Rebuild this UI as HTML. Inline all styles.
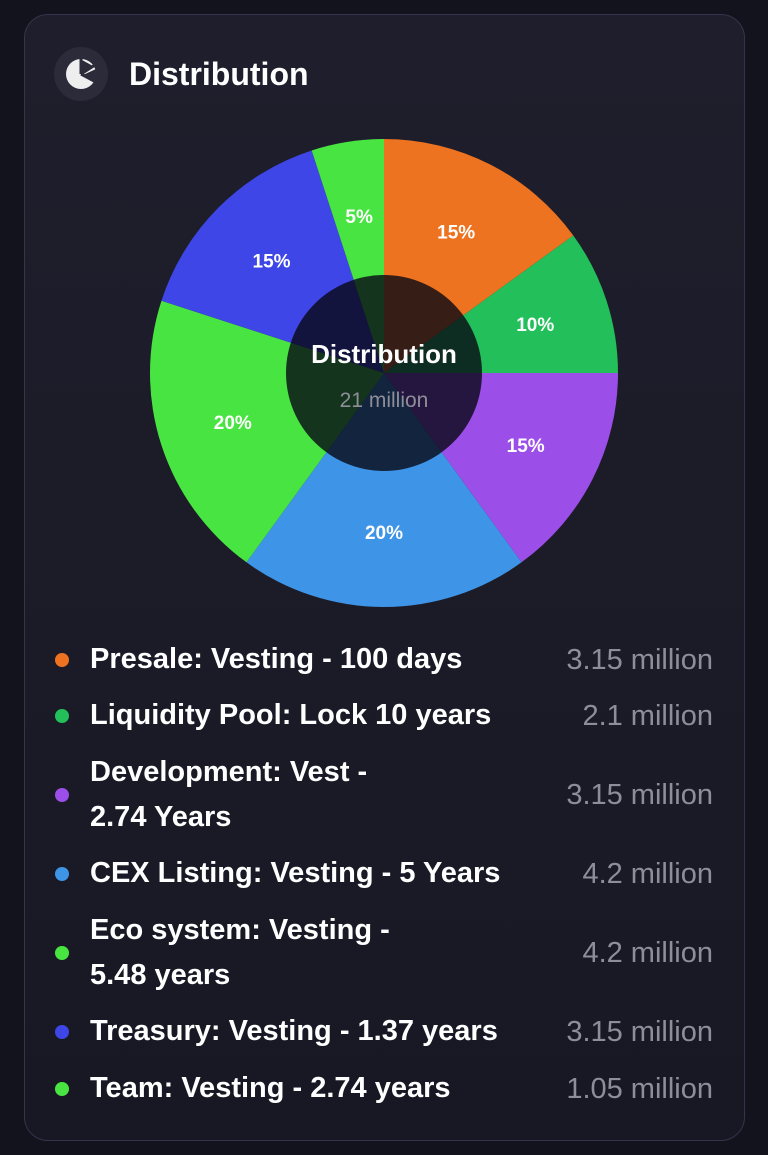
<!DOCTYPE html>
<html><head><meta charset="utf-8"><style>
html,body{margin:0;padding:0;width:768px;height:1155px;background:#13131d;overflow:hidden;font-family:"Liberation Sans",sans-serif}
.card{position:absolute;left:24px;top:14px;width:719px;height:1125px;border:1px solid #34344a;border-radius:24px;background:linear-gradient(#1f1e2c,#181824)}
.hdr-icon{position:absolute;left:54px;top:47px;width:54px;height:54px;border-radius:50%;background:#2c2b3a}
.title{position:absolute;left:129px;top:54px;font-size:32px;color:#fff;font-weight:bold;line-height:40px}
.row{position:absolute;left:0;width:768px;color:#fff;font-size:29px}
.dot{position:absolute;left:55px;width:14px;height:14px;border-radius:50%}
.lbl{position:absolute;left:90px;line-height:45px;font-weight:bold}
.val{position:absolute;right:55px;color:#8e8e99;line-height:45px}
</style></head><body>
<div class="card"></div>
<div class="hdr-icon">
<svg width="54" height="54" viewBox="0 0 54 54"><circle cx="27" cy="27" r="15" fill="#eee"/><path d="M28 13 L28 26 L39 19 Z M29 28 L42 22 L42 34 Z" fill="#2c2b3a"/><path d="M27 27 L27 11 M27 27 L41 18 M27 27 L42 35" stroke="#2c2b3a" stroke-width="3"/></svg></div>
<div class="title">Distribution</div>
<svg id="pie" width="768" height="640" style="position:absolute;left:0;top:0"></svg>
<div id="legend"></div>
<script>
const labels=["Presale: Vesting - 100 days","Liquidity Pool: Lock 10 years","Development: Vest -\n2.74 Years","CEX Listing: Vesting - 5 Years","Eco system: Vesting -\n5.48 years","Treasury: Vesting - 1.37 years","Team: Vesting - 2.74 years"];
const percents=[15,10,15,20,20,15,5];
const amounts=["3.15 million","2.1 million","3.15 million","4.2 million","4.2 million","3.15 million","1.05 million"];
const colors=["#ee7320","#23bf5b","#9b4fe8","#3e94e6","#48e542","#3e46e7","#48e542"];
const cx=384,cy=373,R=234,r=98;
const svg=document.getElementById('pie');const NS="http://www.w3.org/2000/svg";
let a=0;const tot=percents.reduce((s,v)=>s+v,0);
function pt(ang,rad){return [cx+rad*Math.sin(ang),cy-rad*Math.cos(ang)];}
percents.forEach((p,i)=>{
 const a0=a/tot*2*Math.PI;a+=p;const a1=a/tot*2*Math.PI;
 const [x0,y0]=pt(a0,R),[x1,y1]=pt(a1,R);
 const path=document.createElementNS(NS,'path');
 path.setAttribute('d',`M${cx},${cy}L${x0},${y0}A${R},${R} 0 ${a1-a0>Math.PI?1:0} 1 ${x1},${y1}Z`);
 path.setAttribute('fill',colors[i]);
 
 
 svg.appendChild(path);
 const [tx,ty]=pt((a0+a1)/2,159);
 const t=document.createElementNS(NS,'text');
 t.setAttribute('x',tx);t.setAttribute('y',ty+7);t.setAttribute('text-anchor','middle');
 t.setAttribute('fill','#fff');t.setAttribute('font-size','19');t.setAttribute('font-weight','600');
 t.setAttribute('font-family','Liberation Sans, sans-serif');
 t.textContent=p+'%';
 
 
 svg.appendChild(t);
});
const c=document.createElementNS(NS,'circle');
c.setAttribute('cx',cx);c.setAttribute('cy',cy);c.setAttribute('r',r);c.setAttribute('fill','rgba(8,8,20,0.8)');


svg.appendChild(c);
[["Distribution",363,26,"#fff","600"],["21 million",407,21,"#8e8e99","400"]].forEach(([s,y,fs,f,w],k)=>{
 const t=document.createElementNS(NS,'text');t.setAttribute('x',cx);t.setAttribute('y',y);t.setAttribute('text-anchor','middle');
 t.setAttribute('fill',f);t.setAttribute('font-size',fs);t.setAttribute('font-weight',w);t.setAttribute('font-family','Liberation Sans, sans-serif');
 t.textContent=s;
 
 
 svg.appendChild(t);});
const tops=[637,693,750,851,908,1009,1066];
const lg=document.getElementById('legend');
labels.forEach((l,i)=>{
 const lines=l.split('\n');const h=lines.length*45;
 const row=document.createElement('div');row.className='row';row.style.top=tops[i]+'px';row.style.height=h+'px';
 
 
 row.innerHTML=`<div class="dot" style="top:${h/2-7}px;background:${colors[i]}"></div><div class="lbl">${lines.join('<br>')}</div><div class="val" style="top:${h/2-22}px">${amounts[i]}</div>`;
 lg.appendChild(row);
});
</script>
</body></html>
